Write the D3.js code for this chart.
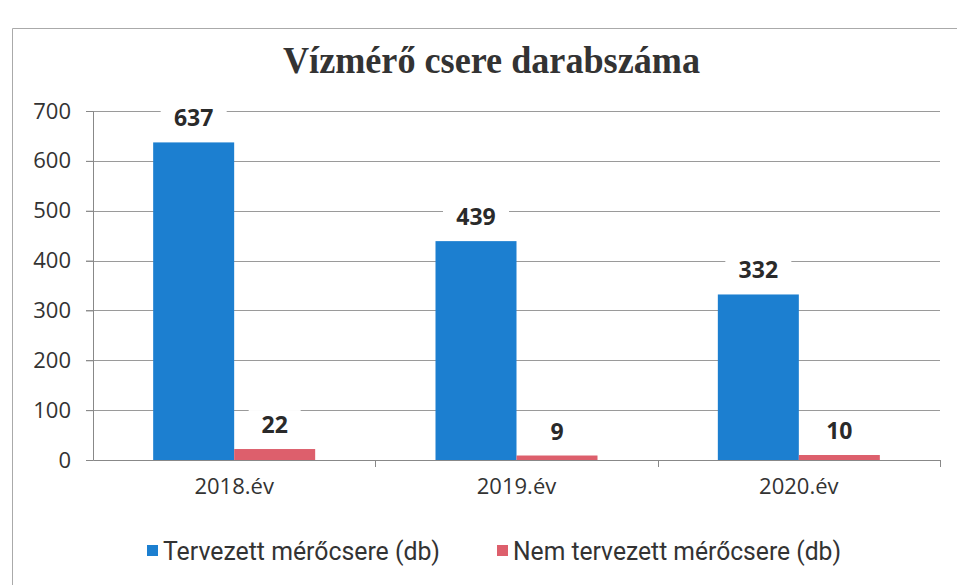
<!DOCTYPE html>
<html>
<head>
<meta charset="utf-8">
<script src="https://cdn.jsdelivr.net/npm/d3@7"></script>
<style>
  body { margin: 0; background: #fff; }
</style>
</head>
<body>
<div id="chart"></div>
<script>
// data
let years = ["2018.év", "2019.év", "2020.év"]
let seriesNames = ["Tervezett mérőcsere (db)", "Nem tervezett mérőcsere (db)"]
let planned = [637, 439, 332]
let unplanned = [22, 9, 10]
let yTicks = [0, 100, 200, 300, 400, 500, 600, 700]
let colors = ["#1c7fd0", "#dd5f6c"]

let W = 957, H = 585
let margin = {top: 111, right: 17, bottom: 125, left: 93}
let width = W - margin.left - margin.right,
    height = H - margin.top - margin.bottom

let svg = d3.select("#chart").append("svg")
    .attr("width", W)
    .attr("height", H)

// frame
svg.append("path")
    .attr("d", "M12.5," + H + " L12.5,28.5 L" + W + ",28.5")
    .attr("fill", "none")
    .attr("stroke", "#aaa")
    .attr("stroke-width", 1)

svg.append("text")
    .attr("x", 283)
    .attr("y", 73)
    .attr("font-family", "'Liberation Serif', 'DejaVu Serif', serif")
    .attr("font-weight", "bold")
    .attr("font-size", 37)
    .attr("textLength", 417)
    .attr("lengthAdjust", "spacingAndGlyphs")
    .attr("fill", "#333")
    .text("Vízmérő csere darabszáma")

let g = svg.append("g")
    .attr("transform", "translate(" + margin.left + "," + margin.top + ")")

let x0 = d3.scaleBand().domain(years).range([0, width]).paddingInner(0).paddingOuter(0)
let x1 = d3.scaleBand().domain([0, 1]).range([0, 162]).padding(0)
let y = d3.scaleLinear().domain([0, 700]).range([height, 0])

// grid
g.selectAll(".grid").data(yTicks.filter(d => d > 0)).enter()
    .append("line")
    .attr("x1", -7)
    .attr("x2", width)
    .attr("y1", d => Math.round(y(d)) + 0.5)
    .attr("y2", d => Math.round(y(d)) + 0.5)
    .attr("stroke", "#9a9a9a")
    .attr("stroke-width", 1)

// y axis
let yAxis = g.append("g")
    .call(d3.axisLeft(y).tickValues(yTicks).tickSize(7).tickPadding(15))
yAxis.select(".domain").attr("stroke", "#888")
yAxis.selectAll(".tick line").attr("stroke", "#888")
yAxis.selectAll("text")
    .attr("font-family", "'Open Sans', sans-serif")
    .attr("font-size", 22)
    .attr("fill", "#333")

// x axis
let xAxis = g.append("g")
    .attr("transform", "translate(0," + height + ")")
    .call(d3.axisBottom(x0).tickSize(0).tickPadding(18))
xAxis.select(".domain").attr("stroke", "#888")
xAxis.selectAll("text")
    .attr("font-family", "'Open Sans', sans-serif")
    .attr("font-size", 22)
    .attr("fill", "#333")

// category boundary ticks
g.selectAll(".bt").data(years).enter()
    .append("line")
    .attr("x1", d => Math.round(x0(d) + x0.bandwidth()) + 0.5)
    .attr("x2", d => Math.round(x0(d) + x0.bandwidth()) + 0.5)
    .attr("y1", height)
    .attr("y2", height + 7)
    .attr("stroke", "#888")

let rows = []
years.forEach(function (yr, i) {
    rows.push({year: yr, s: 0, v: planned[i]})
    rows.push({year: yr, s: 1, v: unplanned[i]})
})

let groupOffset = (x0.bandwidth() - 162) / 2

g.selectAll(".bar").data(rows).enter()
    .append("rect")
    .attr("x", d => x0(d.year) + groupOffset + x1(d.s))
    .attr("width", x1.bandwidth())
    .attr("y", d => y(d.v))
    .attr("height", d => height - y(d.v))
    .attr("fill", d => colors[d.s])

// labels with white backing
let labels = g.selectAll(".lbl").data(rows).enter()
    .append("g")
    .attr("transform", d => "translate(" + (x0(d.year) + groupOffset + x1(d.s) + x1.bandwidth() / 2) + "," + (y(d.v) - 16) + ")")

labels.append("rect")
    .attr("x", d => -(String(d.v).length * 7 + 12))
    .attr("width", d => 2 * (String(d.v).length * 7 + 12))
    .attr("y", -23)
    .attr("height", 33)
    .attr("fill", "#fff")

labels.append("text")
    .attr("text-anchor", "middle")
    .attr("font-family", "'Open Sans', sans-serif")
    .attr("font-weight", "bold")
    .attr("font-size", 23)
    .attr("fill", "#2a2a2a")
    .text(d => d.v)

// legend
let legendX = [147, 497]
let legendLen = [277, 328]
let legend = svg.selectAll(".leg").data(seriesNames).enter()
    .append("g")
    .attr("transform", (d, i) => "translate(" + legendX[i] + ",551)")

legend.append("rect")
    .attr("x", 0)
    .attr("y", -6)
    .attr("width", 11)
    .attr("height", 11)
    .attr("fill", (d, i) => colors[i])

legend.append("text")
    .attr("x", 16)
    .attr("y", 0)
    .attr("dy", "0.35em")
    .attr("font-family", "'Roboto', sans-serif")
    .attr("font-size", 26)
    .attr("textLength", (d, i) => legendLen[i])
    .attr("lengthAdjust", "spacingAndGlyphs")
    .attr("fill", "#333")
    .text(d => d)
</script>
</body>
</html>
